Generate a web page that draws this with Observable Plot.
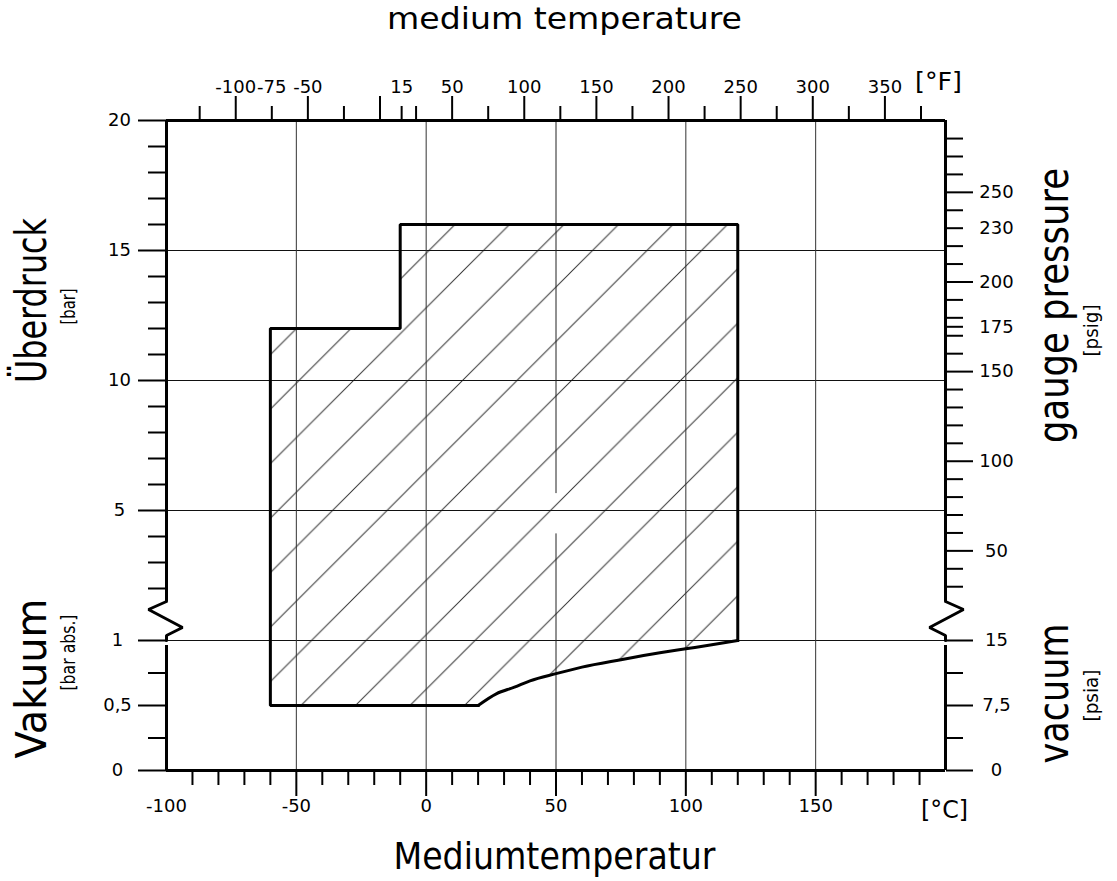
<!DOCTYPE html>
<html><head><meta charset="utf-8">
<script src="https://cdn.jsdelivr.net/npm/d3@7"></script>
<script src="https://cdn.jsdelivr.net/npm/@observablehq/plot@0.6"></script>
<style>html,body{margin:0;padding:0;background:#fff}#chart svg{display:block}</style>
</head><body><div id="chart"></div>
<script>
// ---------------- data ----------------
const celsiusDomain = [-100, 200];
const celsiusMajor = [-50, 0, 50, 100, 150];
const celsiusMinor = [-90,-80,-70,-60,-40,-30,-20,-10,10,20,30,40,60,70,80,90,110,120,130,140,160,170,180,190];
const celsiusLabels = [-100, -50, 0, 50, 100, 150];
const fahrenheitLong = [-100,-50,0,50,100,150,200,250,300,350];
const fahrenheitShort = [-125,-75,-25,15,25,75,125,175,225,275,325,375];
const fahrenheitLabels = [-100,-75,-50,15,50,100,150,200,250,300,350];
const gaugeBarMajor = [5, 10, 15, 20];
const gaugeBarMinor = [2,3,4,6,7,8,9,11,12,13,14,16,17,18,19];
const absBarMajor = [0, 0.5, 1];
const absBarMinor = [0.25, 0.75];
const psigLong = [50, 100, 150, 200, 250];
const psigShort = [30,40,60,70,80,90,110,120,130,140,160,170,175,180,190,210,220,230,240,260,270,280];
const psigLabels = [50, 100, 150, 175, 200, 230, 250];
const psiaLong = [0, 7.5, 15];
const psiaShort = [3.75, 11.25];
const gridGaugeBar = [5, 10, 15];
const gridAbsBar = [1];
const gridCelsius = [-50, 0, 100, 150];
const grid50Gap = [4.1, 5.65];          // gauge bar where the 50 °C grid line is interrupted
const breakGauge = 1.5;                  // top of the axis break (gauge bar)
// operating region: straight boundary (°C, pressure, kind) and the curved vacuum limit (°C, bar abs)
const boundaryTemp     = [120, 120, -10, -10, -60, -60, 20];
const boundaryPressure = [1.0, 16, 16, 12, 12, 0.5, 0.5];
const boundaryKind     = ["abs", "gauge", "gauge", "gauge", "gauge", "abs", "abs"];
const vacuumTemp = [20, 27, 34, 40, 50, 60, 75, 90, 100, 110, 120];
const vacuumAbs  = [0.5, 0.59, 0.641, 0.69, 0.745, 0.795, 0.852, 0.905, 0.936, 0.967, 1.0];

// ---------------- helpers ----------------
const ML = 166, MR = 172, MT = 120, MB = 111, W = 1117, H = 881;
const BAR_PER_PSI = 1 / 14.5038;
const PSIA_PER_BAR_LABEL = 15;
const gaugeU = p => p + 5;          // upper part: 1 unit per bar, 0 barg at 5
const absU = p => p * 5;            // lower part: 5 units per bar abs
const psigU = p => gaugeU(p * BAR_PER_PSI);
const psiaU = p => absU(p / PSIA_PER_BAR_LABEL);
const fToC = f => (f - 32) * 5 / 9;
const fmt = v => String(v).replace(".", ",");
const FONT = "DejaVu Sans";
const NUM = 18;

const boundary = boundaryTemp.map((t, i) => ({t, u: boundaryKind[i] === "abs" ? absU(boundaryPressure[i]) : gaugeU(boundaryPressure[i])}));
const vacuumCurve = vacuumTemp.map((t, i) => ({t, u: absU(vacuumAbs[i])}));
const region = boundary.concat(vacuumCurve.slice(1));

// break symbol (pixel offsets converted to data units)
const pxX = (celsiusDomain[1] - celsiusDomain[0]) / (W - ML - MR);
const pxY = 25 / (H - MT - MB);
const zig = [[0, 0], [-18, 8], [16, 26], [0, 34], [0, 39]];
const uTop = gaugeU(breakGauge);
const zigLeft = zig.map(([dx, dy]) => ({x: celsiusDomain[0] + dx * pxX, u: uTop - dy * pxY}));
const zigRight = zig.map(([dx, dy]) => ({x: celsiusDomain[1] - dx * pxX, u: uTop - dy * pxY}));

const fits = new Map();
function label(txt, px, py, o) {
  const {size, rotate = 0, len, anchor = "middle", line = "bottom"} = o;
  if (len) fits.set(txt, len);
  return Plot.text([txt], {text: d => d, frameAnchor: "top-left", dx: px - ML, dy: py - MT,
    fontSize: size, rotate, textAnchor: anchor, lineAnchor: line, fill: "black", fontFamily: FONT});
}
const noText = () => "";

const svg = Plot.plot({
  width: W, height: H,
  marginLeft: ML, marginRight: MR, marginTop: MT, marginBottom: MB,
  style: {fontFamily: FONT, color: "black", background: "white"},
  x: {domain: celsiusDomain, axis: null},
  y: {domain: [0, 25], axis: null},
  marks: [
    // hatched region
    Plot.line(region, {x: "t", y: "u", fill: "url(#hatch)", stroke: "none"}),
    // grid
    Plot.ruleY(gridGaugeBar.map(gaugeU).concat(gridAbsBar.map(absU)), {stroke: "#111", strokeWidth: 1}),
    Plot.ruleX(gridCelsius, {stroke: "#333", strokeWidth: 1}),
    Plot.ruleX([50], {y1: 0, y2: gaugeU(grid50Gap[0]), stroke: "#222", strokeWidth: 1}),
    Plot.ruleX([50], {y1: gaugeU(grid50Gap[1]), y2: 25, stroke: "#222", strokeWidth: 1}),
    // region outline
    Plot.line(boundary, {x: "t", y: "u", stroke: "black", strokeWidth: 3, strokeLinejoin: "miter", strokeLinecap: "square"}),
    Plot.line(vacuumCurve, {x: "t", y: "u", stroke: "black", strokeWidth: 3, curve: "monotone-x", strokeLinecap: "round"}),
    // bottom axis (°C)
    Plot.axisX(celsiusMinor, {anchor: "bottom", tickSize: 15, strokeWidth: 2, tickFormat: noText, label: null}),
    Plot.axisX(celsiusMajor, {anchor: "bottom", tickSize: 26, strokeWidth: 2, tickFormat: noText, label: null}),
    Plot.text(celsiusLabels, {x: d => d, text: d => String(d), frameAnchor: "bottom", dy: 41, fontSize: NUM, fill: "black", textAnchor: "middle"}),
    // top axis (°F)
    Plot.axisX(fahrenheitShort.map(fToC), {anchor: "top", tickSize: 15, strokeWidth: 2, tickFormat: noText, label: null}),
    Plot.axisX(fahrenheitLong.map(fToC), {anchor: "top", tickSize: 25, strokeWidth: 2, tickFormat: noText, label: null}),
    Plot.text(fahrenheitLabels, {x: fToC, text: d => String(d), frameAnchor: "top", dy: -40, fontSize: NUM, fill: "black", textAnchor: "middle"}),
    // left axis (bar)
    Plot.axisY(gaugeBarMinor.map(gaugeU).concat(absBarMinor.map(absU)), {anchor: "left", tickSize: 18, strokeWidth: 2, tickFormat: noText, label: null}),
    Plot.axisY(gaugeBarMajor.map(gaugeU).concat(absBarMajor.map(absU)), {anchor: "left", tickSize: 28, strokeWidth: 2, tickFormat: noText, label: null}),
    Plot.text(gaugeBarMajor, {y: gaugeU, text: fmt, frameAnchor: "left", dx: -47, fontSize: NUM, fill: "black", textAnchor: "middle"}),
    Plot.text(absBarMajor, {y: absU, text: fmt, frameAnchor: "left", dx: -49, fontSize: NUM, fill: "black", textAnchor: "middle"}),
    // right axis (psi)
    Plot.axisY(psigShort.map(psigU).concat(psiaShort.map(psiaU)), {anchor: "right", tickSize: 17, strokeWidth: 2, tickFormat: noText, label: null}),
    Plot.axisY(psigLong.map(psigU).concat(psiaLong.map(psiaU)), {anchor: "right", tickSize: 27, strokeWidth: 2, tickFormat: noText, label: null}),
    Plot.text(psigLabels, {y: psigU, text: fmt, frameAnchor: "right", dx: 51, fontSize: NUM, fill: "black", textAnchor: "middle"}),
    Plot.text(psiaLong, {y: psiaU, text: fmt, frameAnchor: "right", dx: 51, fontSize: NUM, fill: "black", textAnchor: "middle"}),
    // frame
    Plot.ruleY([0, 25], {stroke: "black", strokeWidth: 3}),
    Plot.ruleX(celsiusDomain, {y1: 0, y2: absU(1) - 5 * pxY, stroke: "black", strokeWidth: 3}),
    Plot.ruleX(celsiusDomain, {y1: uTop, y2: 25, stroke: "black", strokeWidth: 3}),
    Plot.line(zigLeft, {x: "x", y: "u", stroke: "black", strokeWidth: 3, strokeLinejoin: "miter"}),
    Plot.line(zigRight, {x: "x", y: "u", stroke: "black", strokeWidth: 3, strokeLinejoin: "miter"}),
    // unit labels
    label("[°F]", 938, 89, {size: 25, len: 47}),
    label("[°C]", 944, 817, {size: 25, len: 47}),
    // titles
    label("medium temperature", 564, 28, {size: 30, len: 355}),
    label("Mediumtemperatur", 554, 868, {size: 38, len: 322}),
    label("Überdruck", 45, 300, {size: 42, rotate: -90, len: 165}),
    label("[bar]", 74, 306, {size: 19, rotate: -90, len: 36}),
    label("Vakuum", 45, 678, {size: 42, rotate: -90, len: 160}),
    label("[bar abs.]", 74, 652, {size: 19, rotate: -90, len: 76}),
    label("gauge pressure", 1067, 305, {size: 42, rotate: -90, len: 275}),
    label("[psig]", 1097, 330, {size: 19, rotate: -90, len: 52}),
    label("vacuum", 1067, 693, {size: 42, rotate: -90, len: 140}),
    label("[psia]", 1097, 695, {size: 19, rotate: -90, len: 52})
  ]
});

// hatch pattern (45° lines)
const S = 54.5;
const defs = d3.select(svg).insert("defs", ":first-child");
const pat = defs.append("pattern").attr("id", "hatch").attr("patternUnits", "userSpaceOnUse")
  .attr("x", 24.5).attr("y", 0).attr("width", S).attr("height", S);
pat.append("path").attr("d", `M0,${S}L${S},0M-3,3L3,-3M${S-3},${S+3}L${S+3},${S-3}`)
  .attr("stroke", "#333").attr("stroke-width", 1).attr("fill", "none");

// fit title lengths
svg.querySelectorAll("text").forEach(t => {
  const len = fits.get(t.textContent);
  if (len) { t.setAttribute("textLength", len); t.setAttribute("lengthAdjust", "spacingAndGlyphs"); }
});

document.getElementById("chart").appendChild(svg);
</script>
</body></html>
